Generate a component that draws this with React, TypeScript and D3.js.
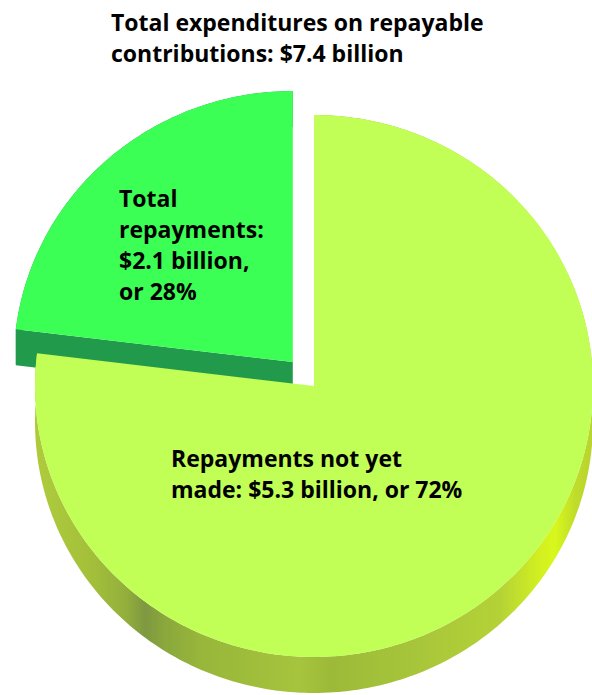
import React from "react";
import * as d3 from "d3";

// ---- data ----
const categories = ["Repayments not yet made", "Total repayments"];
const values = [5.3, 2.1]; // $ billions
const percents = [72, 28];
const totalLabel = 7.4;
const titleLines = ["Total expenditures on repayable", `contributions: $${totalLabel} billion`];
const labelLinesA = ["Repayments not yet", `made: $${values[0]} billion, or ${percents[0]}%`];
const labelLinesB = ["Total", "repayments:", `$${values[1]} billion,`, `or ${percents[1]}%`];

// ---- layout / style ----
const W = 592;
const H = 695;
const CX = 314;
const CY = 386;
const RX = 279;
const RY = 271;
const DEPTH = 36;
const EXPLODE = 32;
const PERSPECTIVE = 0.341; // compression of the far side of the tilted disc
const FONT = "'Open Sans', 'Noto Sans', sans-serif";
const TOP_COLORS = ["#c1fe56", "#3cff55"];
const SIDE_DARK = "#229a4c";

const warp = (a: number) => a - PERSPECTIVE * Math.sin(a);

function pt(cx: number, cy: number, a: number, dy = 0): [number, number] {
  return [cx + RX * Math.sin(a), cy - RY * Math.cos(a) + dy];
}

function arcPts(cx: number, cy: number, a0: number, a1: number, dy = 0) {
  const n = Math.max(8, Math.ceil(((a1 - a0) * 180) / Math.PI));
  return d3.range(n + 1).map((i) => pt(cx, cy, a0 + ((a1 - a0) * i) / n, dy));
}

const line = d3.line().curve(d3.curveLinearClosed);

export default function App() {
  const pie = d3.pie<number>().sort(null).startAngle(0).endAngle(2 * Math.PI);
  const arcs = pie(values);

  const slices = arcs.map((a, i) => {
    const s = warp(a.startAngle);
    const e = warp(a.endAngle);
    const mid = (s + e) / 2;
    const off = i === 1 ? EXPLODE : 0;
    const cx = CX + off * Math.sin(mid);
    const cy = CY - off * Math.cos(mid);
    const top = [[cx, cy] as [number, number], ...arcPts(cx, cy, s, e)];
    const outer = [...arcPts(cx, cy, s, e), ...arcPts(cx, cy, s, e, DEPTH).reverse()];
    const p0 = pt(cx, cy, s);
    const p1 = pt(cx, cy, e);
    const radS: [number, number][] = [[cx, cy], p0, [p0[0], p0[1] + DEPTH], [cx, cy + DEPTH]];
    const radE: [number, number][] = [[cx, cy], p1, [p1[0], p1[1] + DEPTH], [cx, cy + DEPTH]];
    return { i, top, outer, radS, radE };
  });

  const green = slices[1];
  const light = slices[0];

  return (
    <svg
      width={W}
      height={H}
      viewBox={`0 0 ${W} ${H}`}
      style={{ position: "absolute", left: 0, top: 0, display: "block", background: "#fff" }}
    >
      <defs>
        <linearGradient id="sideGrad" gradientUnits="userSpaceOnUse" x1={30} x2={592} y1={0} y2={0}>
          <stop offset="0" stopColor="#b0cc3c" />
          <stop offset="0.107" stopColor="#a4c03a" />
          <stop offset="0.169" stopColor="#94b03c" />
          <stop offset="0.205" stopColor="#7e9840" />
          <stop offset="0.24" stopColor="#8aa83c" />
          <stop offset="0.302" stopColor="#98b63a" />
          <stop offset="0.48" stopColor="#a6c43c" />
          <stop offset="0.534" stopColor="#9cba38" />
          <stop offset="0.694" stopColor="#a8c63a" />
          <stop offset="0.836" stopColor="#b4d236" />
          <stop offset="0.907" stopColor="#d2f020" />
          <stop offset="0.934" stopColor="#d8f81c" />
          <stop offset="0.97" stopColor="#c0dc2a" />
          <stop offset="1" stopColor="#b8d430" />
        </linearGradient>
      </defs>

      {/* back (exploded) slice */}
      <path d={line(green.outer) || ""} fill={SIDE_DARK} />
      <path d={line(green.radE) || ""} fill={SIDE_DARK} />
      <path d={line(green.radS) || ""} fill={SIDE_DARK} />
      <path d={line(green.top) || ""} fill={TOP_COLORS[1]} />

      {/* front slice */}
      <path d={line(light.outer) || ""} fill="url(#sideGrad)" />
      <path d={line(light.top) || ""} fill={TOP_COLORS[0]} />

      <g fontFamily={FONT} fontWeight={700} fontSize={23} fill="#000">
        {labelLinesB.map((t, k) => (
          <text key={"b" + k} x={119} y={207 + k * 31}>
            {t}
          </text>
        ))}
        {labelLinesA.map((t, k) => (
          <text key={"a" + k} x={171} y={467 + k * 31}>
            {t}
          </text>
        ))}
        {titleLines.map((t, k) => (
          <text key={"t" + k} x={111} y={31 + k * 31}>
            {t}
          </text>
        ))}
      </g>
      <title>{categories.join(" / ")}</title>
    </svg>
  );
}
